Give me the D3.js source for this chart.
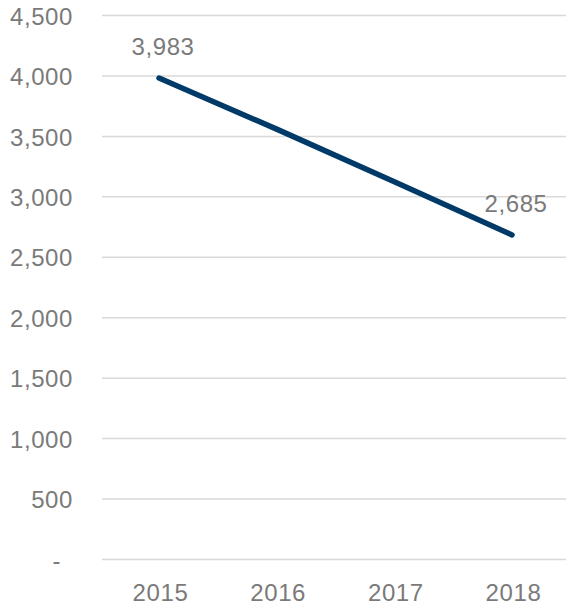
<!DOCTYPE html>
<html>
<head>
<meta charset="utf-8">
<script src="https://cdn.jsdelivr.net/npm/d3@7"></script>
<style>
  html, body { margin: 0; padding: 0; background: #fff; }
  svg { display: block; }
  text { font-family: "Liberation Sans", Arial, sans-serif; fill: #7a7a7a; letter-spacing: 0.6px; }
</style>
</head>
<body>
<svg id="chart" width="566" height="607"></svg>
<script>
const years = ["2015", "2016", "2017", "2018"];
const values = [3983, 3560, 3125, 2685];
const yTicks = [0, 500, 1000, 1500, 2000, 2500, 3000, 3500, 4000, 4500];
const labelledYears = ["2015", "2018"];

const svg = d3.select("#chart");
const fontSize = 24;

const x = d3.scalePoint().domain(years).range([159, 512]);
const y = d3.scaleLinear().domain([0, 4500]).range([559.5, 15.5]);

const fmt = d3.format(",");

// gridlines
svg.append("g")
  .selectAll("line")
  .data(yTicks)
  .join("line")
  .attr("x1", 102)
  .attr("x2", 566)
  .attr("y1", d => y(d))
  .attr("y2", d => y(d))
  .attr("stroke", "#d9d9d9")
  .attr("stroke-width", 1.5);

// y axis labels
const yAxis = d3.axisLeft(y)
  .tickValues(yTicks)
  .tickSize(0)
  .tickPadding(0)
  .tickFormat(d => d === 0 ? "-" : fmt(d));

const yg = svg.append("g")
  .attr("transform", "translate(73,0)")
  .call(yAxis);
yg.select(".domain").remove();
yg.selectAll("text")
  .style("font-size", fontSize + "px")
  .attr("fill", "#7a7a7a")
  .attr("dy", "0.36em")
  .attr("dx", d => d === 0 ? -12 : 0);

// x axis labels
const xAxis = d3.axisBottom(x).tickSize(0).tickPadding(0);
const xg = svg.append("g")
  .attr("transform", "translate(1,584)")
  .call(xAxis);
xg.select(".domain").remove();
xg.selectAll("text")
  .style("font-size", fontSize + "px")
  .attr("fill", "#7a7a7a")
  .attr("dy", "0.71em");

// line
const data = years.map((yr, i) => ({ year: yr, value: values[i] }));
const line = d3.line().x(d => x(d.year)).y(d => y(d.value));

svg.append("path")
  .datum(data)
  .attr("d", line)
  .attr("fill", "none")
  .attr("stroke", "#003a68")
  .attr("stroke-width", 5.5)
  .attr("stroke-linecap", "round")
  .attr("stroke-linejoin", "round");

// data labels
svg.append("g")
  .selectAll("text")
  .data(data.filter(d => labelledYears.includes(d.year)))
  .join("text")
  .attr("x", d => x(d.year) + 4)
  .attr("y", d => y(d.value) - 23)
  .attr("text-anchor", "middle")
  .style("font-size", fontSize + "px")
  .text(d => fmt(d.value));
</script>
</body>
</html>
